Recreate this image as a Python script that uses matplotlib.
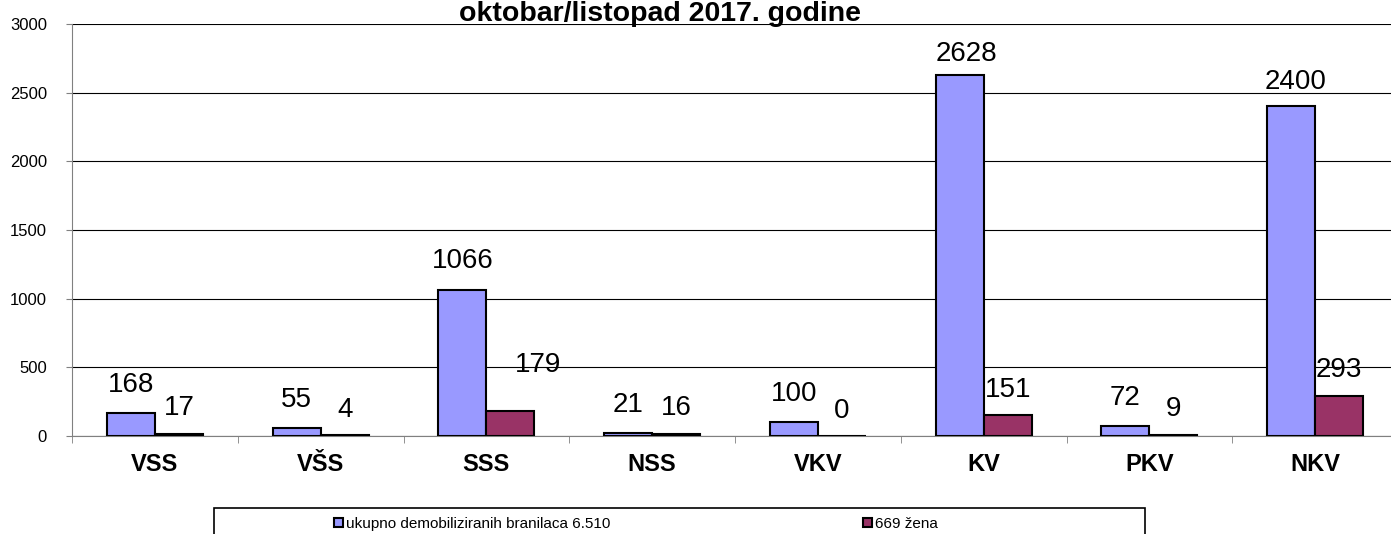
import matplotlib
matplotlib.use('Agg')
import matplotlib.pyplot as plt
from matplotlib.patches import Rectangle
import numpy as np

plt.rcParams['font.family'] = ['Liberation Sans', 'DejaVu Sans']

categories = ['VSS', 'VŠS', 'SSS', 'NSS', 'VKV', 'KV', 'PKV', 'NKV']
ukupno = [168, 55, 1066, 21, 100, 2628, 72, 2400]
zene = [17, 4, 179, 16, 0, 151, 9, 293]
series_names = ['ukupno demobiliziranih branilaca 6.510', '669 žena']
title = 'oktobar/listopad 2017. godine'

# label offsets in points (dx, dy), Excel put a few of them oddly
off_ukupno = [(0, 11), (0, 11), (0, 11), (0, 11), (0, 11), (5, 6), (0, 11), (3, 8)]
off_zene = [(0, 9), (0, 9), (20, 24), (0, 9), (0, 9), (0, 9), (0, 9), (0, 9)]

fig = plt.figure(figsize=(13.91, 5.34), dpi=100)
ax = fig.add_axes([72 / 1391, 1 - 436 / 534, 1326 / 1391, 412 / 534])

x = np.arange(len(categories))
w = 0.29
b1 = ax.bar(x - w / 2, ukupno, w, color='#9999FF', edgecolor='black', linewidth=1.5,
            label=series_names[0], zorder=3)
b2 = ax.bar(x + w / 2, zene, w, color='#993366', edgecolor='black', linewidth=1.5,
            label=series_names[1], zorder=3)

for xi, v, o in zip(x - w / 2, ukupno, off_ukupno):
    ax.annotate(str(v), (xi, v), xytext=o, textcoords='offset points',
                ha='center', va='bottom', fontsize=20)
for xi, v, o in zip(x + w / 2, zene, off_zene):
    ax.annotate(str(v), (xi, v), xytext=o, textcoords='offset points',
                ha='center', va='bottom', fontsize=20)

ax.set_xlim(-0.5, len(categories) - 0.5)
ax.set_ylim(0, 3000)
ax.set_yticks(np.arange(0, 3001, 500))
ax.yaxis.grid(True, color='black', linewidth=0.8, zorder=0)
ax.tick_params(axis='y', labelsize=12, length=4, pad=14, color='#808080')

ax.set_xticks(x)
ax.set_xticklabels(categories, fontsize=17, fontweight='bold')
ax.set_xticks(np.arange(-0.5, len(categories)), minor=True)
ax.tick_params(axis='x', which='major', length=0, pad=12)
ax.tick_params(axis='x', which='minor', length=5, color='#808080')

for s in ['top', 'right']:
    ax.spines[s].set_visible(False)
ax.spines['left'].set_color('#808080')
ax.spines['bottom'].set_color('#808080')

fig.text(660 / 1391, 1 - 21 / 534, title, ha='center', va='baseline',
         fontsize=20.5, fontweight='bold')

# legend box (cut off by the bottom of the picture)
fig.patches.append(Rectangle((214 / 1391, -0.05), (1145 - 214) / 1391, 0.05 + 1 - 508 / 534,
                             transform=fig.transFigure, facecolor='white',
                             edgecolor='black', linewidth=1.2))
leg = fig.legend(handles=[b1, b2], loc='center left',
                 bbox_to_anchor=(334 / 1391, 1 - 524 / 534),
                 ncol=2, frameon=False, fontsize=11,
                 handlelength=0.6, handleheight=0.6, handletextpad=0.2,
                 columnspacing=16.5, borderaxespad=0, borderpad=0)

fig.savefig('out.png', dpi=100)
